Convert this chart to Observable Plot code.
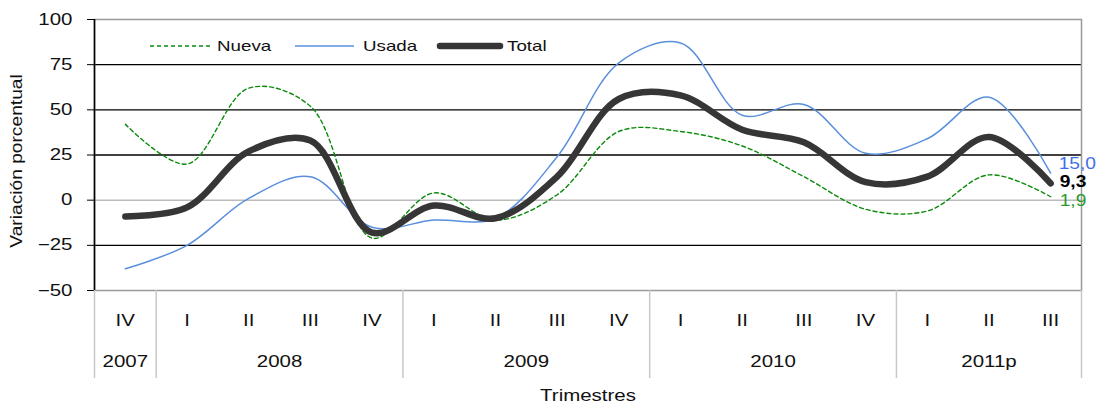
<!DOCTYPE html>
<html>
<head>
<meta charset="utf-8">
<script src="https://cdn.jsdelivr.net/npm/d3@7"></script>
<script src="https://cdn.jsdelivr.net/npm/@observablehq/plot@0.6"></script>
<style>
  body { margin: 0; background: #fff; font-family: "Liberation Sans", Arial, sans-serif; }
  #wrap { position: relative; width: 1098px; height: 403px; overflow: hidden; }
  #legend { position: absolute; left: 0; top: 0; font-size: 15px; color: #111; }
  #legend svg, #legend span { position: absolute; }
  #legend span { display: inline-block; transform: scaleX(1.25); transform-origin: left center; line-height: 18px; white-space: nowrap; }
</style>
</head>
<body>
<div id="wrap">
  <div id="chart"></div>
  <div id="legend"></div>
</div>
<script>
const quarters = ["IV","I","II","III","IV","I","II","III","IV","I","II","III","IV","I","II","III"];
const years = ["2007","2008","2009","2010","2011p"];
const quartersPerYear = [1, 4, 4, 4, 3];
const nueva = [42, 20, 62, 52, -21, 4, -11, 3, 38, 38, 30, 13, -5, -6, 14, 1.9];
const usada = [-38, -25, 1, 13, -15, -11, -10, 24, 76, 87, 47, 53, 26, 34, 57, 15.0];
const total = [-9, -4, 27, 33, -18, -3, -10, 13, 56, 58, 39, 32, 10, 13, 35, 9.3];
const yTicks = [-50, -25, 0, 25, 50, 75, 100];
const seriesNames = ["Nueva", "Usada", "Total"];

const rows = (vals) => vals.map((v, i) => ({i, v}));
let start = 0;
const yearRows = years.map((y, k) => {
  const n = quartersPerYear[k];
  const r = {label: y, center: start + (n - 1) / 2, hi: start + n - 0.5};
  start += n;
  return r;
});
const bounds = [-0.5, ...yearRows.map(d => d.hi)];
const last = quarters.length - 1;
const fmt = d => d.toFixed(1).replace(".", ",");

const chart = Plot.plot({
  width: 1098,
  height: 403,
  marginLeft: 94,
  marginRight: 17,
  marginTop: 19,
  marginBottom: 113,
  style: {fontFamily: "Liberation Sans, Arial, sans-serif", fontSize: "16px", color: "#111", background: "#fff"},
  x: {domain: [-0.5, quarters.length - 0.5], axis: null},
  y: {domain: [-50, 100], axis: null},
  marks: [
    Plot.ruleY(yTicks.filter(t => t !== 0 && t !== 100 && t !== -50), {stroke: "#000", strokeWidth: 1.3}),
    Plot.ruleY([0], {stroke: "#bbb", strokeWidth: 1.5}),
    Plot.frame({stroke: "#999", strokeWidth: 1.5}),
    Plot.ruleX([-0.5], {stroke: "#000", strokeWidth: 1.6}),
    Plot.axisY({ticks: yTicks, tickSize: 7, tickPadding: 15, fontSize: 16, stroke: "#000", label: "Variación porcentual", labelAnchor: "center", labelOffset: 84, labelArrow: "none"}),
    Plot.axisX(bounds, {tickSize: 88, tickFormat: () => "", stroke: "#c8c8c8", strokeWidth: 1.5}),
    Plot.text(quarters, {x: (d, i) => i, text: d => d, frameAnchor: "bottom", dy: 35, fontSize: 16, fill: "#111"}),
    Plot.text(yearRows, {x: "center", text: "label", frameAnchor: "bottom", dy: 76, fontSize: 16, fill: "#111"}),
    Plot.text(["Trimestres"], {x: (quarters.length - 1) / 2, text: d => d, frameAnchor: "bottom", dy: 110, fontSize: 16, fill: "#111"}),
    Plot.line(rows(nueva), {x: "i", y: "v", curve: "catmull-rom", stroke: "#0a8a0a", strokeWidth: 1.4, strokeDasharray: "4,3"}),
    Plot.line(rows(usada), {x: "i", y: "v", curve: "catmull-rom", stroke: "#5a8fdc", strokeWidth: 1.5}),
    Plot.line(rows(total), {x: "i", y: "v", curve: "catmull-rom", stroke: "#363636", strokeWidth: 6.5, strokeLinecap: "round"}),
    Plot.text([usada[last]], {x: last, y: d => d, text: fmt, dx: 8, dy: -9, textAnchor: "start", fill: "#3f6fe8", fontSize: 16}),
    Plot.text([total[last]], {x: last, y: d => d, text: fmt, dx: 9, dy: -1, textAnchor: "start", fill: "#000", fontWeight: "bold", fontSize: 16}),
    Plot.text([nueva[last]], {x: last, y: d => d, text: fmt, dx: 9, dy: 4, textAnchor: "start", fill: "#2a9a2a", fontSize: 16})
  ]
});
document.getElementById("chart").appendChild(chart);

// Widen glyphs horizontally to match the stretched look of the original chart text
const K = 1.28;
chart.querySelectorAll("text").forEach(t => {
  const g = document.createElementNS("http://www.w3.org/2000/svg", "g");
  t.parentNode.insertBefore(g, t);
  g.appendChild(t);
  const anchor = getComputedStyle(t).textAnchor;
  const rotated = (t.getAttribute("transform") || "").includes("rotate");
  g.style.transformBox = "fill-box";
  if (rotated) {
    g.style.transformOrigin = "center";
    g.style.transform = `translateY(6px) scaleY(1.2)`;
  } else {
    g.style.transformOrigin = anchor === "end" ? "right center" : anchor === "start" ? "left center" : "center";
    g.style.transform = `scaleX(${t.textContent.includes(",") ? 1.2 : K})`;
  }
});

const legendItems = [
  {stroke: "#0a8a0a", width: 1.4, dash: "4,3", cap: "butt", x1: 150, x2: 210, tx: 217},
  {stroke: "#5a8fdc", width: 1.5, dash: null, cap: "butt", x1: 295, x2: 354, tx: 363},
  {stroke: "#363636", width: 6.5, dash: null, cap: "round", x1: 440, x2: 500, tx: 507}
];
const legend = document.getElementById("legend");
seriesNames.forEach((name, k) => {
  const s = legendItems[k];
  const sv = document.createElementNS("http://www.w3.org/2000/svg", "svg");
  sv.setAttribute("width", s.x2 - s.x1 + 8);
  sv.setAttribute("height", 12);
  sv.style.left = (s.x1 - 4) + "px";
  sv.style.top = "40px";
  sv.innerHTML = `<line x1="4" x2="${s.x2 - s.x1 + 4}" y1="6" y2="6" stroke="${s.stroke}" stroke-width="${s.width}" ${s.dash ? `stroke-dasharray="${s.dash}"` : ""} stroke-linecap="${s.cap}"/>`;
  legend.appendChild(sv);
  const sp = document.createElement("span");
  sp.textContent = name;
  sp.style.left = s.tx + "px";
  sp.style.top = "37px";
  legend.appendChild(sp);
});
</script>
</body>
</html>
